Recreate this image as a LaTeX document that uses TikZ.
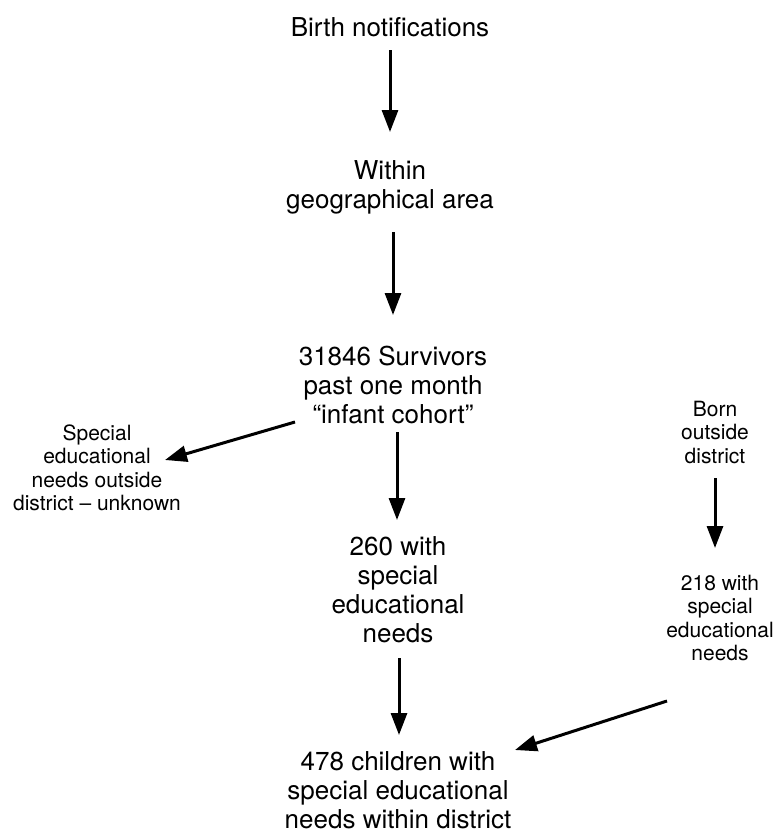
\documentclass[tikz,border=0pt]{standalone}
\usepackage{fontspec}
\setmainfont{TeX Gyre Heros}
\usetikzlibrary{arrows.meta,calc}
\begin{document}
\begin{tikzpicture}[x=1pt,y=-1pt,
  big/.style={align=center,font=\fontsize{26}{29}\selectfont,inner sep=0pt},
  small/.style={align=center,font=\fontsize{21}{23.5}\selectfont,inner sep=0pt},
  arr/.style={line width=3pt,-{Triangle[length=22pt,width=16pt]}}]
\useasboundingbox (0,0) rectangle (778,838);
\node[big] (birth) at (390,27) {Birth notifications};
\node[big] (within) at (390,187) {Within\\geographical area};
\node[big] (surv) at (393,385) {31846 Survivors\\past one month\\“infant cohort”};
\node[small] (outside) at (97,468) {Special\\educational\\needs outside\\district – unknown};
\node[big] (sen) at (398,590) {260 with\\special\\educational\\needs};
\node[big] (total) at (398,790) {478 children with\\special educational\\needs within district};
\node[small] (born) at (715,432) {Born\\outside\\district};
\node[small] (sen2) at (720,618) {218 with\\special\\educational\\needs};
\draw[arr] ($(birth)+(0,23)$) -- ($(within)+(0,-55)$);
\draw[arr] ($(within)+(3,45)$) -- ($(surv)+(0,-70)$);
\draw[arr] ($(surv)+(4,47)$) -- ($(sen)+(-1,-70)$);
\draw[arr] ($(sen)+(1,68)$) -- ($(total)+(1,-55)$);
\draw[arr] ($(born)+(0,46)$) -- ($(sen2)+(-5,-70)$);
\draw[arr] ($(surv)+(-98,37)$) -- ($(outside)+(68,-8)$);
\draw[arr] ($(sen2)+(-53,83)$) -- ($(total)+(117,-40)$);
\end{tikzpicture}
\end{document}
